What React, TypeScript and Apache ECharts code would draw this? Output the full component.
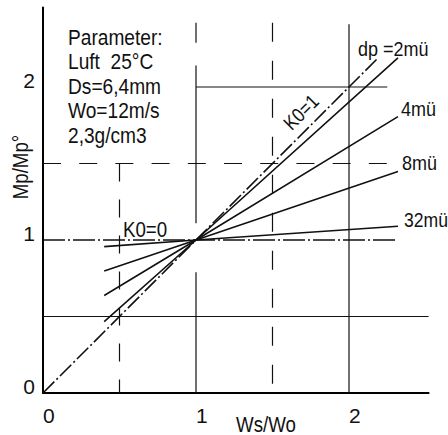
import React, { useEffect, useRef } from "react";
import * as echarts from "echarts";

// ---- data ----
const tickValues = [0, 1, 2];
const paramLines = ["Parameter:", "Luft  25°C", "Ds=6,4mm", "Wo=12m/s", "2,3g/cm3"];
const curveNames = ["dp =2mü", "4mü", "8mü", "32mü"];
const curveX = [0.4, 1, 2.32];
const curve2 = [0.466, 1, 2.19];
const curve4 = [0.637, 1, 1.806];
const curve8 = [0.797, 1, 1.447];
const curve32 = [0.957, 1, 1.09];
const k1X = [0, 2.18];
const k1Y = [0, 2.18];
const k0X = [0, 2.32];
const k0Y = [1, 1];
// reference (grid) lines
const h05X = [0, 2.52];
const h15X = [0, 2.27];
const h20X = [1, 2.25];
const v05Y = [1.5, 0];
const v10Segs = [[2.42, 2.29], [2.14, 1.11], [0.79, 0]];
const v15Y = [2.42, 0];
const v20Y = [2.41, 0];

const FONT = "'Liberation Sans', Arial, sans-serif";
const INK = "#111";

const pts = (xs: number[], ys: number[]) => xs.map((x, i) => [x, ys[i]]);

export default function App() {
  const ref = useRef<HTMLDivElement>(null);
  useEffect(() => {
    if (!ref.current) return;
    const chart = echarts.init(ref.current, null, { renderer: "svg" });

    const lineSeries = (data: number[][], width: number, type: any) => ({
      type: "line",
      data,
      symbol: "none",
      silent: true,
      lineStyle: { color: INK, width, type },
    });

    const series: any[] = [
      lineSeries(pts(h05X, [0.5, 0.5]), 1.2, "solid"),
      lineSeries(pts(h15X, [1.5, 1.5]), 1.2, [18, 18.2]),
      lineSeries(pts(h20X, [2, 2]), 1.2, "solid"),
      lineSeries(pts([0.5, 0.5], v05Y), 1.2, [18, 18]),
      ...v10Segs.map((s) => lineSeries(pts([1, 1], s), 1.2, "solid")),
      lineSeries(pts([1.5, 1.5], v15Y), 1.2, [19, 19]),
      lineSeries(pts([2, 2], v20Y), 1.2, "solid"),
      lineSeries(pts(k0X, k0Y), 1.6, [22, 3, 2, 3]),
      lineSeries(pts(k1X, k1Y), 1.6, [16, 3, 2, 3]),
      lineSeries(pts(curveX, curve2), 1.6, "solid"),
      lineSeries(pts(curveX, curve4), 1.6, "solid"),
      lineSeries(pts(curveX, curve8), 1.6, "solid"),
      lineSeries(pts(curveX, curve32), 1.6, "solid"),
    ];

    const txt = (text: string, x: number, y: number, size: number, sx: number, extra: any = {}) => ({
      type: "text",
      x,
      y,
      scaleX: sx,
      silent: true,
      style: {
        text,
        fill: INK,
        font: `${size}px ${FONT}`,
        align: "left",
        verticalAlign: "middle",
        ...extra,
      },
    });

    const paramY = [36.7, 61, 86, 110, 135];
    const graphic: any[] = [
      ...paramLines.map((t, i) => txt(t, 68, paramY[i], 22, 0.87)),
      txt(curveNames[0], 358, 49, 20, 0.9),
      txt(curveNames[1], 401, 109, 20, 0.9),
      txt(curveNames[2], 402, 163, 20, 0.9),
      txt(curveNames[3], 404, 220, 20, 0.88),
      txt("K0=0", 123, 229, 22, 0.85),
      { ...txt("K0=1", 301, 112, 20, 0.85, { align: "center" }), rotation: Math.PI / 4 },
      txt("Ws/Wo", 266, 424, 22, 0.85, { align: "center" }),
      { ...txt("Mp/Mp°", 20, 167, 22, 0.85, { align: "center" }), rotation: Math.PI / 2 },
    ];

    const fmt = (v: number) => (tickValues.includes(v) ? String(v) : "");

    chart.setOption({
      animation: false,
      backgroundColor: "#fff",
      grid: { left: 43, top: 7.44, width: 385.56, height: 385.56 },
      xAxis: {
        type: "value",
        min: 0,
        max: 2.52,
        interval: 1,
        axisLine: { show: true, lineStyle: { color: "#000", width: 2 } },
        axisTick: { show: false },
        splitLine: { show: false },
        axisLabel: {
          formatter: fmt,
          showMaxLabel: false,
          align: "left",
          margin: 12,
          color: INK,
          fontSize: 21,
          fontFamily: FONT,
        },
      },
      yAxis: {
        type: "value",
        min: 0,
        max: 2.52,
        interval: 1,
        axisLine: { show: true, lineStyle: { color: "#000", width: 2 } },
        axisTick: { show: false },
        splitLine: { show: false },
        axisLabel: {
          formatter: fmt,
          showMaxLabel: false,
          margin: 8,
          verticalAlign: "bottom",
          lineHeight: 13,
          color: INK,
          fontSize: 21,
          fontFamily: FONT,
        },
      },
      series,
      graphic,
    });
    return () => chart.dispose();
  }, []);
  return (
    <div
      ref={ref}
      style={{ position: "fixed", left: 0, top: 0, width: 448, height: 435, background: "#fff" }}
    />
  );
}
